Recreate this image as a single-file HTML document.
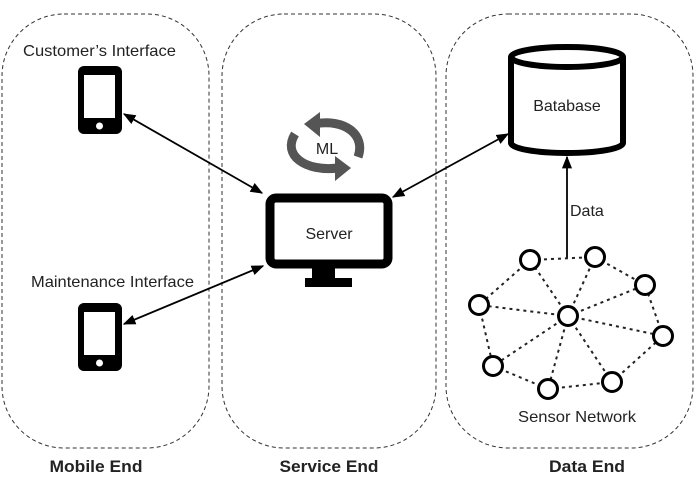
<!DOCTYPE html>
<html><head><meta charset="utf-8"><style>
html,body{margin:0;padding:0;background:#fff;}
svg{display:block;}
text{font-family:"Liberation Sans",Arial,sans-serif;fill:#222;}
</style></head><body>
<svg width="695" height="494" viewBox="0 0 695 494" xmlns="http://www.w3.org/2000/svg">
<defs>
<marker id="ah" viewBox="0 0 10 10" refX="9" refY="5" markerWidth="7" markerHeight="7" orient="auto-start-reverse">
<path d="M0,1 L10,5 L0,9 z" fill="#000"/></marker>
</defs>
<g fill="none" stroke="#333" stroke-width="1" stroke-dasharray="4,3">
<rect x="2" y="14" width="207" height="434" rx="62" ry="62"/>
<rect x="222" y="14" width="214" height="434" rx="62" ry="62"/>
<rect x="446" y="14" width="247" height="434" rx="62" ry="62"/>
</g>
<text x="23" y="56" font-size="16" textLength="153" lengthAdjust="spacingAndGlyphs">Customer’s Interface</text>
<text x="31" y="287" font-size="16" textLength="163" lengthAdjust="spacingAndGlyphs">Maintenance Interface</text>
<!-- phones -->
<g>
<rect x="78" y="66" width="44" height="68" rx="6" fill="#000"/>
<rect x="84" y="75" width="31" height="43" fill="#fff"/>
<circle cx="99.5" cy="126" r="3.5" fill="#fff"/>
<rect x="78" y="303" width="44" height="68" rx="6" fill="#000"/>
<rect x="84" y="312" width="31" height="43" fill="#fff"/>
<circle cx="99.5" cy="363" r="3.5" fill="#fff"/>
</g>
<!-- server -->
<rect x="270" y="198" width="118" height="66" rx="6" fill="#fff" stroke="#000" stroke-width="9"/>
<rect x="312" y="268" width="23" height="12" fill="#000"/>
<rect x="305" y="278" width="47" height="9" fill="#000"/>
<text x="329" y="239" font-size="16" text-anchor="middle">Server</text>
<!-- ML -->
<g fill="none" stroke="#555" stroke-width="9">
<path d="M314,124 C345,118 366,135 358,157"/>
<path d="M295,134 C282,155 305,172 338,168"/>
</g>
<path d="M304,124 L320,112 L320,137 z" fill="#555"/>
<path d="M351,168 L335,156 L335,181 z" fill="#555"/>
<text x="327" y="154" font-size="16" text-anchor="middle">ML</text>
<!-- database -->
<g stroke="#000" stroke-width="6" fill="#fff">
<path d="M511,57 L511,143 A56,10 0 0 0 623,143 L623,57"/>
<ellipse cx="567" cy="57" rx="56" ry="10"/>
</g>
<text x="567" y="111" font-size="16" text-anchor="middle">Batabase</text>
<!-- arrows -->
<g stroke="#000" stroke-width="1.8" fill="none">
<line x1="124" y1="114" x2="262" y2="193" marker-start="url(#ah)" marker-end="url(#ah)"/>
<line x1="124" y1="324" x2="263" y2="266" marker-start="url(#ah)" marker-end="url(#ah)"/>
<line x1="393" y1="197" x2="508" y2="134" marker-start="url(#ah)" marker-end="url(#ah)"/>
<line x1="567" y1="258" x2="567" y2="157" marker-end="url(#ah)"/>
</g>
<text x="570" y="216" font-size="16">Data</text>
<!-- sensor network -->
<g stroke="#222" stroke-width="2" stroke-dasharray="3,4" fill="none">
<line x1="530" y1="260" x2="595" y2="257"/>
<line x1="595" y1="257" x2="645" y2="285"/>
<line x1="530" y1="260" x2="479" y2="305"/>
<line x1="479" y1="305" x2="493" y2="366"/>
<line x1="493" y1="366" x2="548" y2="389"/>
<line x1="548" y1="389" x2="612" y2="382"/>
<line x1="612" y1="382" x2="663" y2="336"/>
<line x1="663" y1="336" x2="645" y2="285"/>
<line x1="568" y1="316" x2="530" y2="260"/>
<line x1="568" y1="316" x2="595" y2="257"/>
<line x1="568" y1="316" x2="645" y2="285"/>
<line x1="568" y1="316" x2="479" y2="305"/>
<line x1="568" y1="316" x2="663" y2="336"/>
<line x1="568" y1="316" x2="493" y2="366"/>
<line x1="568" y1="316" x2="548" y2="389"/>
<line x1="568" y1="316" x2="612" y2="382"/>
</g>
<g stroke="#000" stroke-width="3" fill="#fff">
<circle cx="530" cy="260" r="9.5"/>
<circle cx="595" cy="257" r="9.5"/>
<circle cx="645" cy="285" r="9.5"/>
<circle cx="479" cy="305" r="9.5"/>
<circle cx="568" cy="316" r="9.5"/>
<circle cx="663" cy="336" r="9.5"/>
<circle cx="493" cy="366" r="9.5"/>
<circle cx="548" cy="389" r="9.5"/>
<circle cx="612" cy="382" r="9.5"/>
</g>
<text x="577" y="422" font-size="16" text-anchor="middle" textLength="118" lengthAdjust="spacingAndGlyphs">Sensor Network</text>
<g font-size="17" font-weight="bold" text-anchor="middle">
<text x="96" y="472" textLength="93" lengthAdjust="spacingAndGlyphs">Mobile End</text>
<text x="329" y="472" textLength="99" lengthAdjust="spacingAndGlyphs">Service End</text>
<text x="587" y="472" textLength="76" lengthAdjust="spacingAndGlyphs">Data End</text>
</g>
</svg>
</body></html>
